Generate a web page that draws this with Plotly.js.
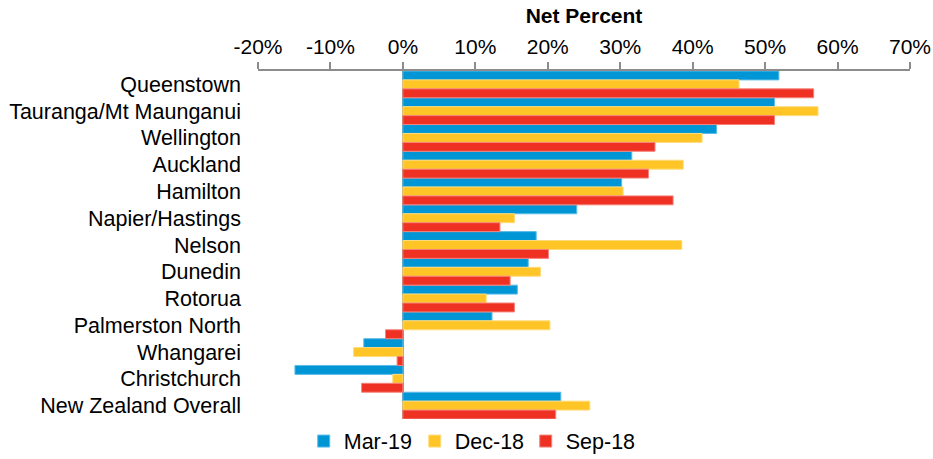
<!DOCTYPE html>
<html>
<head>
<meta charset="utf-8">
<script src="https://cdn.plot.ly/plotly-3.0.1.min.js"></script>
<style>html,body{margin:0;padding:0;background:#fff;}#chart{width:933px;height:459px;}</style>
</head>
<body>
<div id="chart"></div>
<script>
const categories = ["Queenstown","Tauranga/Mt Maunganui","Wellington","Auckland","Hamilton","Napier/Hastings","Nelson","Dunedin","Rotorua","Palmerston North","Whangarei","Christchurch","New Zealand Overall"];
const mar19 = [51.9, 51.3, 43.3, 31.6, 30.2, 24.0, 18.4, 17.3, 15.8, 12.3, -5.4, -14.9, 21.8];
const dec18 = [46.4, 57.3, 41.3, 38.7, 30.4, 15.4, 38.5, 19.0, 11.5, 20.3, -6.8, -1.4, 25.8];
const sep18 = [56.7, 51.3, 34.8, 33.9, 37.3, 13.4, 20.1, 14.8, 15.4, -2.4, -0.8, -5.7, 21.1];
const seriesNames = ["Mar-19","Dec-18","Sep-18"];
const tickVals = [-20,-10,0,10,20,30,40,50,60,70];
const tickText = ["-20%","-10%","0%","10%","20%","30%","40%","50%","60%","70%"];

const colors = ["#0096D6","#FFC425","#EF3124"];
const lines = ["#5BBCE8","#FFDC7A","#F5837B"];
const data = [mar19, dec18, sep18].map((vals, i) => ({
  type: "bar",
  orientation: "h",
  name: seriesNames[i],
  y: categories,
  x: vals,
  marker: {color: colors[i], line: {color: lines[i], width: 1}},
  hoverinfo: "x+y"
}));

const font = "Liberation Sans, Arial, sans-serif";
const layout = {
  width: 933, height: 459,
  margin: {l: 258, r: 23, t: 71, b: 40},
  paper_bgcolor: "#fff", plot_bgcolor: "#fff",
  barmode: "group",
  bargap: 0, bargroupgap: 0,
  font: {family: font, size: 21, color: "#000"},
  xaxis: {
    side: "top",
    range: [-20, 70],
    tickvals: tickVals, ticktext: tickText,
    ticks: "outside", ticklen: 7, tickwidth: 2, tickcolor: "#8c8c8c",
    showline: true, linecolor: "#8c8c8c", linewidth: 2,
    showgrid: false,
    zeroline: true, zerolinecolor: "#8c8c8c", zerolinewidth: 2.5,
    tickfont: {family: font, size: 21, color: "#000"},
    title: {text: "<b>Net Percent</b>", font: {family: font, size: 21, color: "#000"}, standoff: 5},
    fixedrange: true
  },
  yaxis: {
    type: "category",
    autorange: "reversed",
    showgrid: false, showline: false, zeroline: false,
    ticks: "", ticklabelstandoff: 16,
    tickfont: {family: font, size: 21.5, color: "#000"},
    fixedrange: true
  },
  legend: {
    orientation: "h",
    xref: "container", yref: "container",
    x: 0.504, xanchor: "center",
    y: 0.039, yanchor: "middle",
    font: {family: font, size: 21.5, color: "#000"},
    traceorder: "normal",
    entrywidth: 66, entrywidthmode: "pixels",
    itemclick: false, itemdoubleclick: false
  },
  showlegend: true
};

Plotly.newPlot("chart", data, layout, {displayModeBar: false, staticPlot: true});
</script>
</body>
</html>
